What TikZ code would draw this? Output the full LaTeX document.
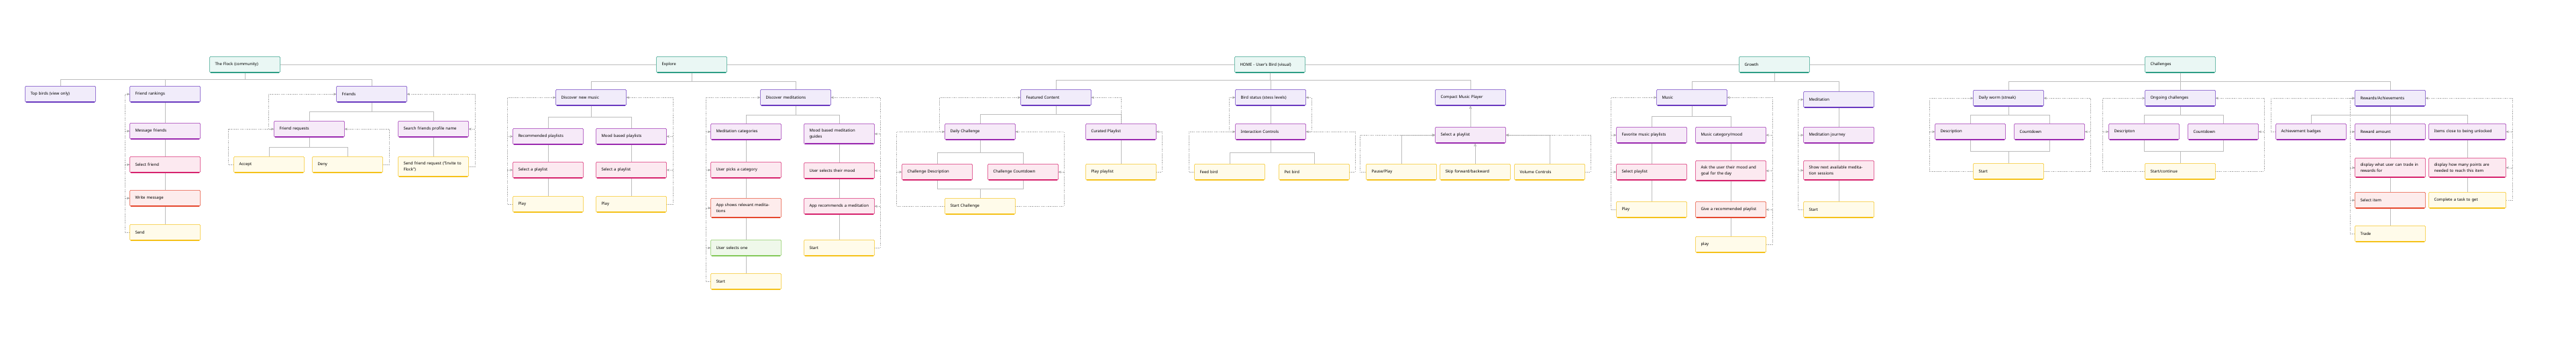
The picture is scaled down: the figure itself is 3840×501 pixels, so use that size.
\documentclass[tikz,border=0pt]{standalone}
\usepackage{fontspec}
\setmainfont{Noto Sans}
\usetikzlibrary{arrows, positioning}
\definecolor{tealF}{HTML}{EAF7F4}\definecolor{tealD}{HTML}{2E9E86}
\definecolor{purF}{HTML}{F1ECFA}\definecolor{purD}{HTML}{6A3AC0}
\definecolor{magF}{HTML}{F6EAF8}\definecolor{magD}{HTML}{9B2BB0}
\definecolor{pinkF}{HTML}{FCE9F0}\definecolor{pinkD}{HTML}{D6246E}
\definecolor{redF}{HTML}{FDECEC}\definecolor{redD}{HTML}{E5482E}
\definecolor{yelF}{HTML}{FFFBEA}\definecolor{yelD}{HTML}{F5C21B}
\definecolor{grnF}{HTML}{EFF8EA}\definecolor{grnD}{HTML}{84C95A}
\definecolor{lineG}{HTML}{BDBDBD}
\definecolor{railG}{HTML}{A8A8A8}
\tikzset{
>=stealth', % small bold heads
box/.style 2 args={draw=#2, fill=#1, rounded corners=1.5pt, line width=0.5pt,
  anchor=north, minimum width=105pt, minimum height=24pt,
  text width=89pt, inner xsep=8pt, inner ysep=8pt, align=left,
  font=\fontsize{6}{8.5}\selectfont,
  append after command={([xshift=1.5pt,yshift=0.8pt]\tikzlastnode.south west)
    edge[draw=#2, line width=1.6pt] ([xshift=-1.5pt,yshift=0.8pt]\tikzlastnode.south east)}},
root/.style={box={tealF}{tealD}},
pur/.style={box={purF}{purD}},
mag/.style={box={magF}{magD}},
pnk/.style={box={pinkF}{pinkD}},
rd/.style={box={redF}{redD}},
ylw/.style={box={yelF}{yelD}},
grn/.style={box={grnF}{grnD}},
tree/.style={draw=lineG, line width=0.7pt},
bus/.style={to path={-- ++(0,-#1) -| (\tikztotarget)}},
rail/.style={draw=railG, line width=0.5pt, dash pattern=on 1.5pt off 1.2pt, ->},
}
\begin{document}
\begin{tikzpicture}[x=1pt, y=1pt]
\useasboundingbox[fill=white] (0,0) rectangle (3840,-501);
% roots
\node[root] (flock) at (365,-84) {The Flock (community)};
\node[root] (explore) at (1031,-84) {Explore};
\node[root] (home) at (1893,-84) {HOME - User's Bird (visual)};
\node[root] (growth) at (2645,-84) {Growth};
\node[root] (chall) at (3250,-84) {Challenges};
\draw[tree] (flock) -- (explore) -- (home) -- (growth) -- (chall);

% the flock
\node[pur] (top) at (90,-128) {Top birds (view only)};
\node[pur] (rank) at (246,-128) {Friend rankings};
\node[pur] (friends) at (554,-128) {Friends};
\node[mag] (msg) at (246,-183) {Message friends};
\node[pnk] (self) at (246,-233) {Select friend};
\node[rd] (write) at (246,-283) {Write message};
\node[ylw] (send) at (246,-334) {Send};
\node[mag] (freq) at (461,-180) {Friend requests};
\node[mag] (search) at (646,-180) {Search friends profile name};
\node[ylw] (accept) at (401,-233) {Accept};
\node[ylw] (deny) at (518,-233) {Deny};
\node[ylw] (invite) at (646,-233) {Send friend request ("Invite to Flock")};
\foreach \c in {top,rank,friends} \draw[tree] (flock.south) to[bus=10] (\c.north);
\draw[tree] (rank) -- (msg) -- (self) -- (write) -- (send);
\foreach \c in {freq,search} \draw[tree] (friends.south) to[bus=14] (\c.north);
\foreach \c in {accept,deny} \draw[tree] (freq.south) to[bus=15] (\c.north);
\draw[tree] (search) -- (invite);
\draw[rail] (send.west) -- ++(-7,0) |- (rank.west);
\foreach \n in {msg,self,write} \draw[rail] ([xshift=-7pt]\n.west) -- (\n.west);
\draw[rail] (accept.west) -- ++(-8,0) |- (freq.west);
\draw[rail] (deny.east) -- ++(9,0) |- (freq.east);
\draw[rail] (freq.west) -- ++(-8,0) |- (friends.west);
\draw[rail] (invite.east) -- ++(9,0) |- (friends.east);
\draw[rail] ([xshift=9pt]search.east) -- (search.east);

% explore
\node[pur] (dmus) at (881,-133) {Discover new music};
\node[pur] (dmed) at (1186,-133) {Discover meditations};
\node[mag] (recpl) at (817,-191) {Recommended playlists};
\node[mag] (moodpl) at (941,-191) {Mood based playlists};
\node[pnk] (selA) at (817,-241) {Select a playlist};
\node[pnk] (selB) at (941,-241) {Select a playlist};
\node[ylw] (playA) at (817,-292) {Play};
\node[ylw] (playB) at (941,-292) {Play};
\node[mag] (medcat) at (1112,-184) {Meditation categories};
\node[mag] (guides) at (1251,-184) {Mood based meditation guides};
\node[pnk] (picks) at (1112,-241) {User picks a category};
\node[pnk] (moodsel) at (1251,-242) {User selects their mood};
\node[rd] (shows) at (1112,-295) {App shows relevant meditations};
\node[pnk] (apprec) at (1251,-295) {App recommends a meditation};
\node[grn] (one) at (1112,-357) {User selects one};
\node[ylw] (startR) at (1251,-357) {Start};
\node[ylw] (startL) at (1112,-407) {Start};
\foreach \c in {dmus,dmed} \draw[tree] (explore.south) to[bus=13] (\c.north);
\foreach \c in {recpl,moodpl} \draw[tree] (dmus.south) to[bus=17] (\c.north);
\foreach \c in {medcat,guides} \draw[tree] (dmed.south) to[bus=14] (\c.north);
\draw[tree] (recpl) -- (selA) -- (playA);
\draw[tree] (moodpl) -- (selB) -- (playB);
\draw[tree] (medcat) -- (picks) -- (shows) -- (one) -- (startL);
\draw[tree] (guides) -- (moodsel) -- (apprec) -- (startR);
\draw[rail] (playA.west) -- ++(-8,0) |- (dmus.west);
\foreach \n in {recpl,selA} \draw[rail] ([xshift=-8pt]\n.west) -- (\n.west);
\draw[rail] (playB.east) -- ++(9,0) |- (dmus.east);
\foreach \n in {moodpl,selB} \draw[rail] ([xshift=9pt]\n.east) -- (\n.east);
\draw[rail] (startL.west) -- ++(-7,0) |- (dmed.west);
\foreach \n in {medcat,picks,shows,one} \draw[rail] ([xshift=-7pt]\n.west) -- (\n.west);
\draw[rail] (startR.east) -- ++(8,0) |- (dmed.east);
\foreach \n in {guides,moodsel,apprec} \draw[rail] ([xshift=8pt]\n.east) -- (\n.east);

% home
\node[pur] (feat) at (1574,-133) {Featured Content};
\node[pur] (bird) at (1894,-133) {Bird status (stess levels)};
\node[pur] (compact) at (2192,-133) {Compact Music Player};
\node[mag] (daily) at (1461,-184) {Daily Challenge};
\node[mag] (curated) at (1671,-184) {Curated Playlist};
\node[pnk] (chdesc) at (1397,-244) {Challenge Description};
\node[pnk] (chcount) at (1525,-244) {Challenge Countdown};
\node[ylw] (startch) at (1461,-295) {Start Challenge};
\node[ylw] (playpl) at (1671,-244) {Play playlist};
\node[mag] (inter) at (1894,-184) {Interaction Controls};
\node[ylw] (feed) at (1833,-244) {Feed bird};
\node[ylw] (pet) at (1959,-244) {Pet bird};
\node[mag] (selpl) at (2192,-189) {Select a playlist};
\node[ylw] (pause) at (2089,-244) {Pause/Play};
\node[ylw] (skip) at (2199,-244) {Skip forward/backward};
\node[ylw] (volume) at (2310,-244) {Volume Controls};
\foreach \c in {feat,bird,compact} \draw[tree] (home.south) to[bus=11] (\c.north);
\foreach \c in {daily,curated} \draw[tree] (feat.south) to[bus=13] (\c.north);
\foreach \c in {chdesc,chcount} \draw[tree] (daily.south) to[bus=19] (\c.north);
\foreach \c in {chdesc,chcount} \draw[tree] (\c.south) to[bus=13] (startch.north);
\draw[tree] (curated) -- (playpl);
\draw[tree] (bird) -- (inter);
\foreach \c in {feed,pet} \draw[tree] (inter.south) to[bus=19] (\c.north);
\draw[tree, ->] (pause.north) |- (selpl.west);
\draw[tree, ->] (volume.north) |- (selpl.east);
\draw[tree, ->] (skip.north) -- (skip.north |- selpl.south);
\draw[tree, ->] (selpl) -- (compact);
\draw[rail] (daily.west) -- ++(-8,0) |- (feat.west);
\draw[rail] (curated.north) |- (feat.east);
\draw[rail] (startch.west) -- ++(-72,0) |- (daily.west);
\draw[rail] ([xshift=-8pt]chdesc.west) -- (chdesc.west);
\draw[rail] (startch.east) -- ++(72,0) |- (daily.east);
\draw[rail] ([xshift=8pt]chcount.east) -- (chcount.east);
\draw[rail] (playpl.east) -- ++(8,0) |- (curated.east);
\draw[rail] (inter.west) -- ++(-9,0) |- (bird.west);
\draw[rail] (inter.east) -- ++(8,0) |- (bird.east);
\draw[rail] (feed.west) -- ++(-8,0) |- (inter.west);
\draw[rail] (pet.east) -- ++(8,0) |- (inter.east);
\draw[rail] (pause.west) -- ++(-9,0) |- (selpl.west);
\draw[rail] (volume.east) -- ++(8,0) |- (selpl.east);

% growth
\node[pur] (music) at (2522,-133) {Music};
\node[pur] (medit) at (2741,-136) {Meditation};
\node[mag] (fav) at (2462,-189) {Favorite music playlists};
\node[mag] (mcat) at (2580,-189) {Music category/mood};
\node[pnk] (gsel) at (2462,-244) {Select playlist};
\node[pnk] (ask) at (2580,-239) {Ask the user their mood and goal for the day};
\node[ylw] (gplay) at (2462,-300) {Play};
\node[rd] (give) at (2580,-300) {Give a recommended playlist};
\node[ylw] (gplay2) at (2580,-352) {play};
\node[mag] (journey) at (2741,-189) {Meditation journey};
\node[pnk] (shownext) at (2741,-239) {Show next available meditation sessions};
\node[ylw] (gstart) at (2741,-300) {Start};
\foreach \c in {music,medit} \draw[tree] (growth.south) to[bus=13] (\c.north);
\foreach \c in {fav,mcat} \draw[tree] (music.south) to[bus=16] (\c.north);
\draw[tree] (fav) -- (gsel) -- (gplay);
\draw[tree] (mcat) -- (ask) -- (give) -- (gplay2);
\draw[tree] (medit) -- (journey) -- (shownext) -- (gstart);
\draw[rail] (gplay.west) -- ++(-8,0) |- (music.west);
\foreach \n in {fav,gsel} \draw[rail] ([xshift=-8pt]\n.west) -- (\n.west);
\draw[rail] (gplay2.east) -- ++(9,0) |- (music.east);
\foreach \n in {mcat,ask,give} \draw[rail] ([xshift=9pt]\n.east) -- (\n.east);
\draw[rail] (gstart.west) -- ++(-8,0) |- (medit.west);
\foreach \n in {journey,shownext} \draw[rail] ([xshift=-8pt]\n.west) -- (\n.west);

% challenges
\node[pur] (worm) at (2994,-134) {Daily worm (streak)};
\node[pur] (ongoing) at (3250,-134) {Ongoing challenges};
\node[pur] (rewards) at (3563,-134) {Rewards/Achievements};
\node[mag] (wdesc) at (2937,-184) {Description};
\node[mag] (wcount) at (3055,-184) {Countdown};
\node[ylw] (wstart) at (2994,-243) {Start};
\node[mag] (odesc) at (3196,-184) {Descripton};
\node[mag] (ocount) at (3314,-184) {Countdown};
\node[ylw] (ostart) at (3250,-243) {Start/continue};
\node[mag] (badges) at (3445,-184) {Achievement badges};
\node[mag] (amount) at (3563,-184) {Reward amount};
\node[mag, minimum width=115pt, text width=99pt] (items) at (3678,-184) {Items close to being unlocked};
\node[pnk] (dwhat) at (3563,-235) {display what user can trade in rewards for};
\node[pnk, minimum width=115pt, text width=99pt] (dhow) at (3678,-235) {display how many points are needed to reach this item};
\node[rd] (selitem) at (3563,-286) {Select item};
\node[ylw, minimum width=115pt, text width=99pt] (task) at (3678,-286) {Complete a task to get};
\node[ylw] (trade) at (3563,-336) {Trade};
\foreach \c in {worm,ongoing,rewards} \draw[tree] (chall.south) to[bus=13] (\c.north);
\foreach \c in {wdesc,wcount} {
  \draw[tree] (worm.south) to[bus=13] (\c.north);
  \draw[tree] (\c.south) to[bus=17] (wstart.north);
}
\foreach \c in {odesc,ocount} {
  \draw[tree] (ongoing.south) to[bus=13] (\c.north);
  \draw[tree] (\c.south) to[bus=17] (ostart.north);
}
\foreach \c in {badges,amount,items} \draw[tree] (rewards.south) to[bus=13] (\c.north);
\draw[tree] (amount) -- (dwhat) -- (selitem) -- (trade);
\draw[tree] (items) -- (dhow) -- (task);
\draw[rail] (wstart.west) -- ++(-65,0) |- (worm.west);
\draw[rail] ([xshift=-8pt]wdesc.west) -- (wdesc.west);
\draw[rail] (wstart.east) -- ++(69,0) |- (worm.east);
\draw[rail] ([xshift=8pt]wcount.east) -- (wcount.east);
\draw[rail] (ostart.west) -- ++(-63,0) |- (ongoing.west);
\draw[rail] ([xshift=-8pt]odesc.west) -- (odesc.west);
\draw[rail] (ostart.east) -- ++(72,0) |- (ongoing.east);
\draw[rail] ([xshift=8pt]ocount.east) -- (ocount.east);
\draw[rail] (badges.west) -- ++(-7,0) |- (rewards.west);
\draw[rail] (trade.west) -- ++(-7,0) |- (rewards.west);
\foreach \n in {amount,dwhat,selitem} \draw[rail] ([xshift=-7pt]\n.west) -- (\n.west);
\draw[rail] (task.east) -- ++(9,0) |- (rewards.east);
\foreach \n in {items,dhow} \draw[rail] ([xshift=9pt]\n.east) -- (\n.east);
\end{tikzpicture}
\end{document}
